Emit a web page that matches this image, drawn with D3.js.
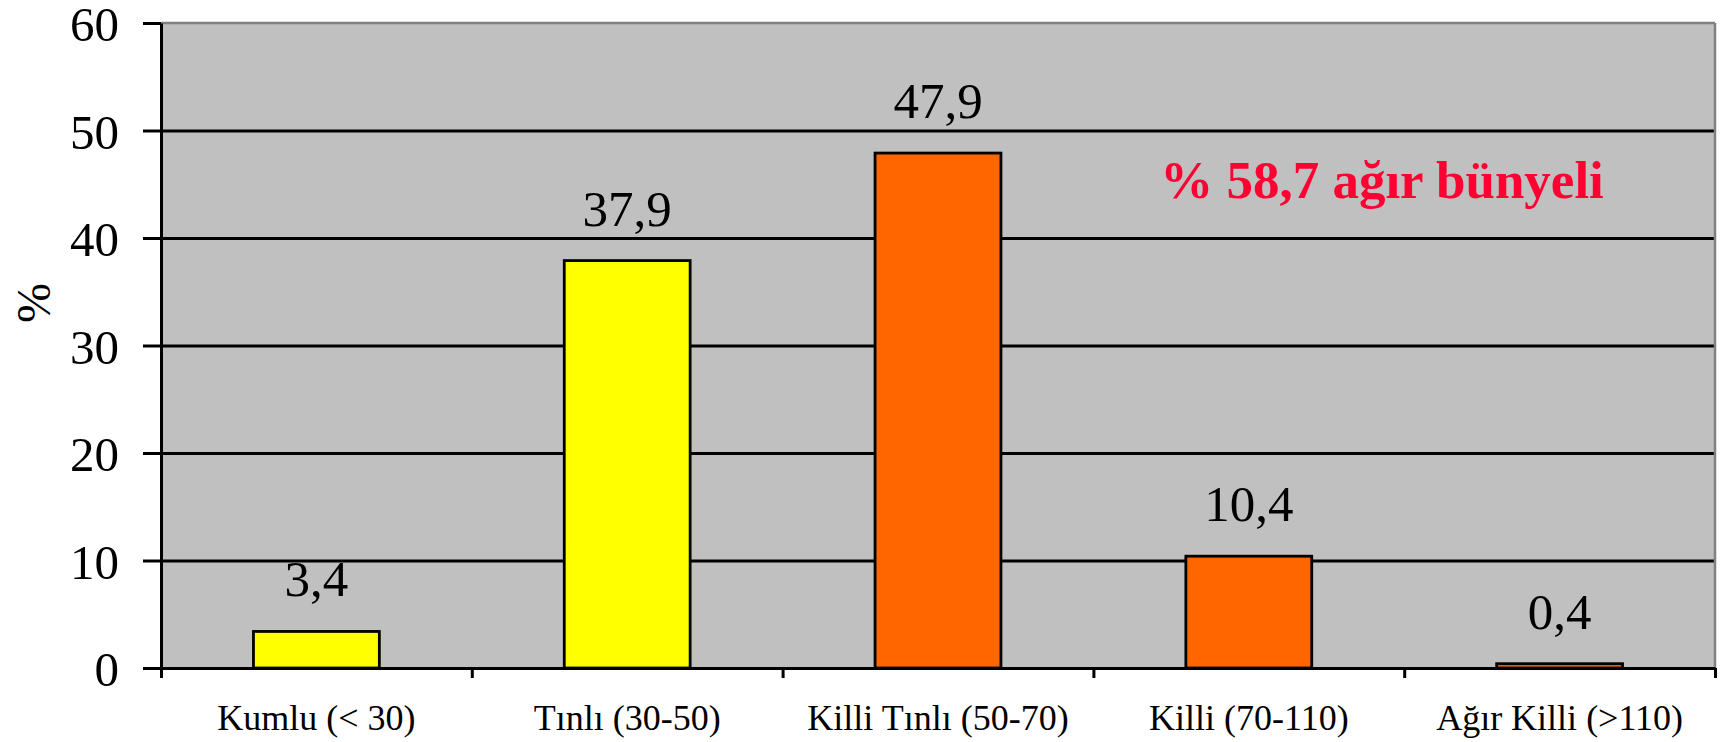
<!DOCTYPE html>
<html>
<head>
<meta charset="utf-8">
<script src="https://cdn.jsdelivr.net/npm/d3@7"></script>
<style>
  body { margin: 0; background: #ffffff; }
  text { font-family: "Liberation Serif", "Times New Roman", serif; }
</style>
</head>
<body>
<div id="chart"></div>
<script>
// data
var categories = ["Kumlu (< 30)", "Tınlı (30-50)", "Killi Tınlı (50-70)", "Killi (70-110)", "Ağır Killi (>110)"]
var values = [3.4, 37.9, 47.9, 10.4, 0.4]
var barColors = ["#ffff00", "#ffff00", "#ff6600", "#ff6600", "#ff6600"]
var yTicks = [0, 10, 20, 30, 40, 50, 60]
var yLabel = "%"
var note = "% 58,7 ağır bünyeli"

var width = 1732
var height = 742
var margin = {top: 23, left: 161, right: 17, bottom: 74}

var svg = d3.select("#chart")
  .append("svg")
  .attr("width", width)
  .attr("height", height)

var innerW = width - margin.left - margin.right
var innerH = height - margin.top - margin.bottom

var g = svg.append("g")
  .attr("transform", "translate(" + margin.left + "," + margin.top + ")")

// scales
var x = d3.scaleBand()
  .domain(categories)
  .range([0, innerW])
  .paddingInner(0.595)
  .paddingOuter(0.2975)

var xEdges = d3.scaleLinear()
  .domain([0, categories.length])
  .range([0, innerW])

var y = d3.scaleLinear()
  .domain([0, 60])
  .range([innerH, 0])

// plot background
g.append("rect")
  .attr("width", innerW)
  .attr("height", innerH)
  .attr("fill", "#c0c0c0")

// gridlines
g.append("g")
  .attr("class", "grid")
  .call(d3.axisLeft(y).tickValues(yTicks.slice(1, -1)).tickSize(-innerW).tickFormat(""))
  .call(function(s){ s.select(".domain").remove() })
  .selectAll("line")
  .attr("stroke", "#000")
  .attr("stroke-width", 2.8)

// top and right border
g.append("line").attr("x1", 0).attr("x2", innerW).attr("y1", 0).attr("y2", 0)
  .attr("stroke", "#808080").attr("stroke-width", 2.5)
g.append("line").attr("x1", innerW).attr("x2", innerW).attr("y1", 0).attr("y2", innerH)
  .attr("stroke", "#808080").attr("stroke-width", 2.5)

// bars
g.selectAll(".bar")
  .data(values)
  .enter()
  .append("rect")
  .attr("class", "bar")
  .attr("x", function(d, i){ return x(categories[i]) })
  .attr("y", function(d){ return y(d) })
  .attr("width", x.bandwidth())
  .attr("height", function(d){ return innerH - y(d) })
  .attr("fill", function(d, i){ return barColors[i] })
  .attr("stroke", "#000")
  .attr("stroke-width", 2.8)

// value labels
g.selectAll(".val")
  .data(values)
  .enter()
  .append("text")
  .attr("class", "val")
  .attr("x", function(d, i){ return x(categories[i]) + x.bandwidth() / 2 })
  .attr("y", function(d){ return y(d) - 35 })
  .attr("text-anchor", "middle")
  .attr("font-size", 51)
  .attr("fill", "#000")
  .text(function(d){ return d3.format(".1f")(d).replace(".", ",") })

// y axis
var yAxis = g.append("g")
  .call(d3.axisLeft(y).tickValues(yTicks).tickSize(18).tickPadding(24).tickSizeOuter(0))
yAxis.select(".domain").attr("stroke", "#000").attr("stroke-width", 3)
yAxis.selectAll("line").attr("stroke", "#000").attr("stroke-width", 3)
yAxis.selectAll("text")
  .attr("font-size", 49)
  .attr("dy", "0.36em")
  .attr("font-family", "Liberation Serif, Times New Roman, serif")
  .attr("fill", "#000")

// x axis: line and ticks on category edges
var xAxis = g.append("g")
  .attr("transform", "translate(0," + innerH + ")")
  .call(d3.axisBottom(xEdges).ticks(categories.length).tickSize(10).tickFormat("").tickSizeOuter(0))
xAxis.select(".domain").attr("stroke", "#000").attr("stroke-width", 3)
xAxis.selectAll("line").attr("stroke", "#000").attr("stroke-width", 3)

// category labels
var xLabels = g.append("g")
  .attr("transform", "translate(0," + innerH + ")")
  .call(d3.axisBottom(x).tickSize(0).tickPadding(36))
xLabels.select(".domain").remove()
xLabels.selectAll("text")
  .attr("font-size", 36)
  .attr("font-family", "Liberation Serif, Times New Roman, serif")
  .attr("fill", "#000")

// y axis title
svg.append("text")
  .attr("transform", "translate(50,303) rotate(-90)")
  .attr("text-anchor", "middle")
  .attr("font-size", 48)
  .text(yLabel)

// annotation
svg.append("text")
  .attr("x", 1382)
  .attr("y", 198)
  .attr("text-anchor", "middle")
  .attr("font-size", 53)
  .attr("font-weight", "bold")
  .attr("fill", "#ff0033")
  .text(note)
</script>
</body>
</html>
